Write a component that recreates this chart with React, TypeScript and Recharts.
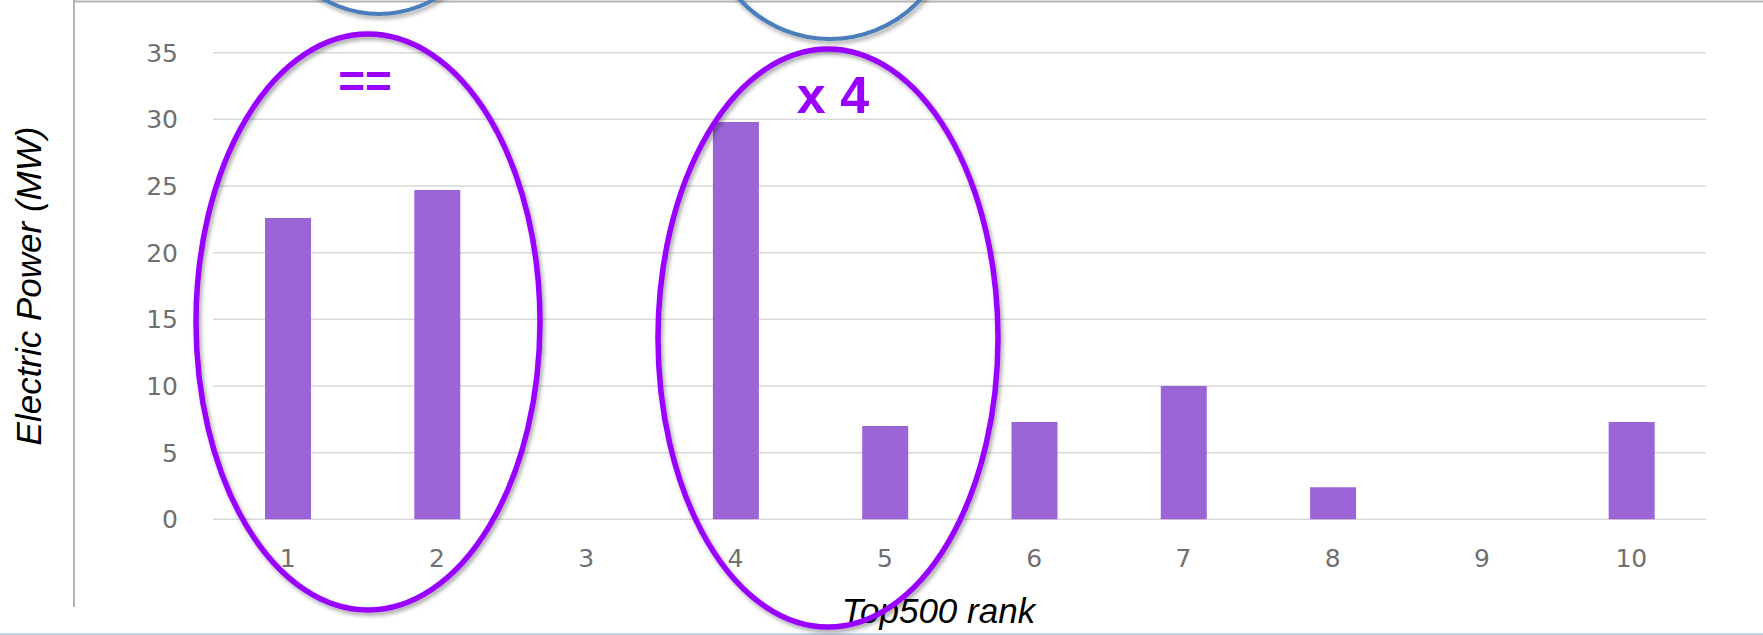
import { Bar, BarChart, CartesianGrid, XAxis, YAxis } from "recharts";

// Electric power drawn by the top 10 systems of the Top500 list
const ranks = ["1", "2", "3", "4", "5", "6", "7", "8", "9", "10"];
const powerMW = [22.6, 24.7, null, 29.8, 7.0, 7.3, 10.0, 2.4, null, 7.3];
const powerTicks = [0, 5, 10, 15, 20, 25, 30, 35];

const data = ranks.map((rank, i) => ({ rank, power: powerMW[i] }));

const WIDTH = 1763;
const HEIGHT = 635;
const BAR_COLOR = "#9b65d7";
const TICK_STYLE = { fill: "#707070", fontSize: 25, fontFamily: "'DejaVu Sans', sans-serif" };
const TITLE_STYLE = { fill: "#000", fontSize: 35, fontStyle: "italic", fontFamily: "'Liberation Sans', Arial, sans-serif" };

// hand-drawn highlight rings and notes laid over the chart
const Annotations = () => (
    <svg width={WIDTH} height={HEIGHT} style={{ position: "absolute", left: 0, top: 0, pointerEvents: "none" }}>
        <defs>
            <filter id="ring-shadow" x="-10%" y="-10%" width="120%" height="120%">
                <feDropShadow dx="2" dy="3" stdDeviation="2" floodColor="#000" floodOpacity="0.35" />
            </filter>
        </defs>
        <line x1={74} y1={0} x2={74} y2={607} stroke="#b3b3b3" strokeWidth={2} />
        <line x1={74} y1={1.5} x2={WIDTH} y2={1.5} stroke="#b3b3b3" strokeWidth={2} />
        <line x1={0} y1={634} x2={WIDTH} y2={634} stroke="#bcd3ea" strokeWidth={2} />
        <g fill="none" filter="url(#ring-shadow)">
            <circle cx={379} cy={-97} r={111} stroke="#4a7ebb" strokeWidth={4} />
            <circle cx={830} cy={-84} r={123} stroke="#4a7ebb" strokeWidth={4} />
            <ellipse cx={368} cy={322} rx={172} ry={288} stroke="#9900ff" strokeWidth={5.5} />
            <ellipse cx={828} cy={338} rx={170} ry={289} stroke="#9900ff" strokeWidth={5.5} />
        </g>
        <g fill="#9900ff" fontWeight="bold" fontFamily="'Liberation Sans', Arial, sans-serif" textAnchor="middle">
            <text x={365} y={97} fontSize={46}>==</text>
            <text x={833} y={113} fontSize={52}>x 4</text>
        </g>
    </svg>
);

const App = () => {
    return (
        <div style={{ position: "absolute", left: 0, top: 0, width: WIDTH, height: HEIGHT, background: "#fff", overflow: "hidden" }}>
            <BarChart width={WIDTH} height={HEIGHT} data={data} margin={{ top: 52.7, right: 57, bottom: 0, left: 0 }}>
                <CartesianGrid vertical={false} stroke="#d9d9d9" strokeWidth={1.5} />
                <XAxis
                    dataKey="rank"
                    height={115.7}
                    axisLine={false}
                    tickLine={false}
                    tickSize={0}
                    tickMargin={30}
                    tick={TICK_STYLE}
                    label={{ value: "Top500 rank", position: "insideBottom", offset: 12, dx: -21, style: TITLE_STYLE }}
                />
                <YAxis
                    width={213}
                    domain={[0, 35]}
                    ticks={powerTicks}
                    axisLine={false}
                    tickLine={false}
                    tickSize={0}
                    tickMargin={35}
                    tick={TICK_STYLE}
                    label={{
                        value: "Electric Power (MW)",
                        angle: -90,
                        position: "insideLeft",
                        offset: 29,
                        style: { ...TITLE_STYLE, textAnchor: "middle" },
                    }}
                />
                <Bar dataKey="power" fill={BAR_COLOR} barSize={46} isAnimationActive={false} />
            </BarChart>
            <Annotations />
        </div>
    );
};

export default App;
